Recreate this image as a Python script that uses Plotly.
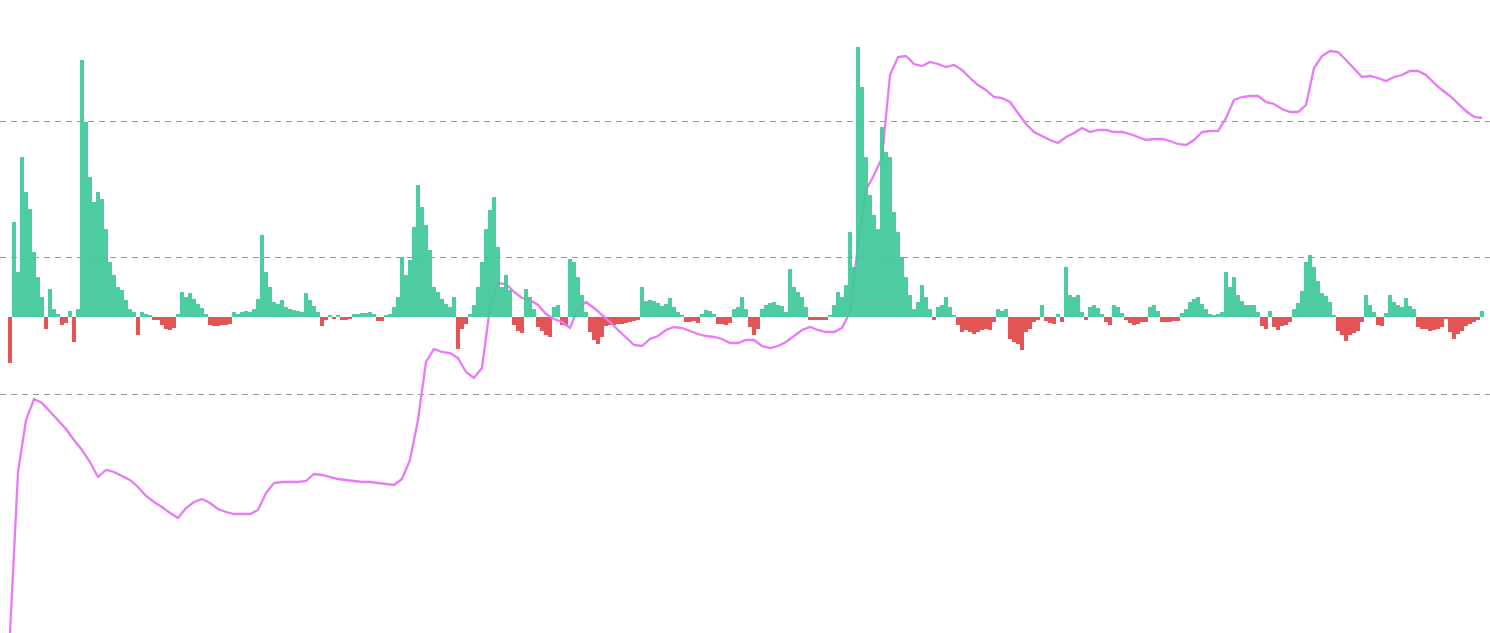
import plotly.graph_objects as go

# Histogram values (one bar per period), positive = green, negative = red
bar_values = [
    -46, 95, 45, 160, 125, 108, 65, 40, 20, -12,
    28, 8, 3, -8, -6, 6, -25, 8, 257, 195,
    140, 115, 125, 118, 88, 55, 42, 30, 27, 17,
    8, 5, -18, 5, 3, 2, -3, -3, -8, -12,
    -13, -11, 3, 25, 20, 24, 18, 13, 9, 3,
    -8, -9, -9, -8, -8, -7, 5, 3, 5, 6,
    5, 8, 18, 82, 45, 30, 15, 13, 17, 10,
    8, 7, 6, 5, 24, 17, 11, 5, -9, -3,
    2, -2, 2, -3, -3, -2, 3, 3, 4, 4,
    5, 3, -4, -4, 2, 3, 10, 20, 60, 42,
    57, 90, 132, 110, 92, 67, 30, 25, 18, 13,
    10, 20, -32, -12, -7, 3, 12, 30, 55, 88,
    107, 120, 70, 30, 42, 27, -8, -14, -16, 28,
    20, 8, -10, -14, -18, -20, 10, 12, -8, -9,
    58, 55, 40, 22, 5, -15, -23, -27, -20, -9,
    -8, -8, -7, -7, -6, -5, -4, -3, 30, 16,
    17, 16, 14, 11, 13, 19, 10, 5, 2, -5,
    -5, -4, -6, 3, 7, 6, 3, -7, -7, -8,
    -6, 8, 10, 20, 8, -10, -18, -12, 8, 12,
    14, 15, 12, 11, 5, 48, 30, 25, 20, 10,
    -3, -3, -3, -3, -3, 2, 12, 25, 20, 32,
    85, 50, 270, 230, 160, 122, 102, 88, 190, 165,
    160, 105, 85, 60, 40, 22, 8, 15, 32, 20,
    8, -3, 10, 12, 20, 10, 2, -8, -15, -13,
    -15, -17, -15, -13, -12, -13, -5, 8, 6, 8,
    -22, -25, -27, -33, -15, -12, -5, -3, 12, -4,
    -6, -7, 3, -5, 50, 22, 20, 22, 5, -3,
    10, 12, 9, 3, -5, -8, 12, 10, 4, -3,
    -6, -8, -7, -5, -5, 10, 12, 6, -5, -5,
    -5, -4, -4, 4, 8, 15, 18, 20, 13, 8,
    3, 2, 3, 5, 45, 30, 40, 22, 16, 12,
    12, 12, 5, -9, -12, 6, -10, -13, -9, -8,
    -5, 8, 14, 26, 55, 62, 50, 36, 24, 21,
    15, 2, -14, -18, -24, -18, -16, -14, -5, 22,
    12, 5, -8, -9, 4, 22, 15, 12, 10, 19,
    11, 8, -10, -12, -12, -14, -13, -12, -10, -2,
    -15, -22, -17, -14, -9, -7, -5, -3, 6,
]

# Line series (sampled every second period)
line_values = [
    0, 161, 213, 234, 230, 221, 213, 204, 193, 183,
    171, 156, 163, 161, 157, 153, 146, 137, 131, 126,
    120, 115, 125, 131, 134, 130, 124, 121, 119, 119,
    119, 123, 140, 150, 151, 151, 151, 152, 159, 158,
    156, 154, 153, 152, 151, 151, 150, 149, 148, 154,
    173, 213, 271, 284, 281, 280, 275, 261, 255, 265,
    326, 350, 349, 341, 335, 333, 328, 319, 314, 311,
    305, 325, 331, 325, 318, 311, 303, 295, 288, 287,
    294, 297, 303, 306, 305, 302, 299, 297, 296, 294,
    290, 290, 293, 293, 287, 285, 287, 291, 297, 303,
    306, 303, 301, 301, 305, 321, 388, 443, 458, 475,
    558, 576, 577, 569, 567, 571, 569, 566, 568, 563,
    555, 548, 543, 536, 535, 531, 520, 509, 501, 497,
    493, 490, 496, 500, 505, 501, 503, 503, 501, 501,
    499, 496, 493, 494, 494, 492, 489, 488, 493, 501,
    502, 502, 515, 533, 536, 537, 537, 531, 529, 524,
    521, 521, 528, 565, 577, 582, 581, 573, 565, 556,
    557, 555, 552, 556, 558, 562, 562, 558, 550, 543,
    537, 529, 522, 516, 515,
]

grid_levels = [239, 376, 512]

GREEN = "#41C99A"
RED = "#E35454"
PINK = "#E879F9"

bar_x = list(range(len(bar_values)))
line_x = list(range(0, 2 * len(line_values), 2))
neg = [v if v < 0 else None for v in bar_values]
pos = [v if v > 0 else None for v in bar_values]

fig = go.Figure()
fig.add_trace(go.Bar(x=bar_x, y=neg, marker_color=RED, marker_line_width=0,
                     width=1, yaxis="y", hoverinfo="skip"))
fig.add_trace(go.Scatter(x=line_x, y=line_values, mode="lines",
                         line=dict(color=PINK, width=2.3), yaxis="y2",
                         hoverinfo="skip"))
fig.add_trace(go.Bar(x=bar_x, y=pos, marker_color=GREEN, marker_line_width=0,
                     width=1, opacity=0.93, yaxis="y3", hoverinfo="skip"))

fig.update_layout(
    width=1490, height=633,
    margin=dict(l=0, r=0, t=0, b=0),
    paper_bgcolor="white", plot_bgcolor="white",
    showlegend=False, barmode="overlay", bargap=0,
    xaxis=dict(range=[-2.5, 370], visible=False, fixedrange=True),
    yaxis=dict(range=[-316, 317], showgrid=False, zeroline=False,
               showticklabels=False, showline=False, ticks=""),
    yaxis2=dict(range=[0, 633], overlaying="y", tickvals=grid_levels,
                showgrid=True, gridcolor="#9a9a9a", gridwidth=1,
                griddash="6px,5px", zeroline=False, showticklabels=False,
                showline=False, ticks=""),
    yaxis3=dict(range=[-316, 317], overlaying="y", showgrid=False,
                zeroline=False, showticklabels=False, showline=False,
                ticks=""),
)

fig.write_html("out.html",
               config={"displayModeBar": False},
               post_script="document.body.style.margin='0';document.body.style.overflow='hidden';")
